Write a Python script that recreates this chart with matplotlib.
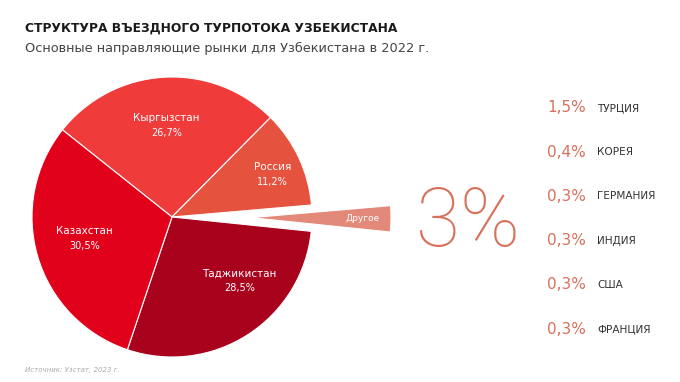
import numpy as np
import matplotlib
matplotlib.use("Agg")
import matplotlib.pyplot as plt

# ---------- data ----------
slice_names = ["Кыргызстан", "Россия", "Другое", "Таджикистан", "Казахстан"]
slice_values = [26.7, 11.2, 3.0, 28.5, 30.5]
slice_labels = ["26,7%", "11,2%", "", "28,5%", "30,5%"]
slice_colors = ["#F03B3B", "#E5533F", "#E3897A", "#A8021D", "#E2011A"]

other_total = "3%"
other_countries = ["ТУРЦИЯ", "КОРЕЯ", "ГЕРМАНИЯ", "ИНДИЯ", "США", "ФРАНЦИЯ"]
other_shares = ["1,5%", "0,4%", "0,3%", "0,3%", "0,3%", "0,3%"]

title = "СТРУКТУРА ВЪЕЗДНОГО ТУРПОТОКА УЗБЕКИСТАНА"
subtitle = "Основные направляющие рынки для Узбекистана в 2022 г."
source = "Источник: Узстат, 2023 г."

W, H = 680, 382
accent = "#D8705B"

fig = plt.figure(figsize=(6.8, 3.82), dpi=100)
ax = fig.add_axes([0, 0, 1, 1])

# pie (y measured from bottom, data units = pixels)
cx, cy, r = 172, H - 217, 140
explode = [0, 0, 79, 0, 0]   # pie explode is in data units
wedges, _ = ax.pie(slice_values, colors=slice_colors, explode=explode,
                   startangle=141.5, counterclock=False, center=(cx, cy),
                   radius=r, wedgeprops=dict(edgecolor="white", linewidth=0.8),
                   frame=True)
ax.set_xlim(0, W)
ax.set_ylim(0, H)
ax.set_aspect("equal")
ax.axis("off")

# label placement per slice (distance as fraction of r, angle shift in deg)
label_dist = [0.66, 0.78, 0.80, 0.66, 0.64]
label_shift = [0, -2, 0, 14, -3]
for w, name, lab, d, sh in zip(wedges, slice_names, slice_labels, label_dist, label_shift):
    ang = np.deg2rad((w.theta1 + w.theta2) / 2 + sh)
    x0, y0 = w.center
    tx, ty = x0 + d * r * np.cos(ang), y0 + d * r * np.sin(ang)
    if lab:
        ax.text(tx, ty + 7, name, color="white", fontsize=7.5, ha="center", va="center")
        ax.text(tx, ty - 8, lab, color="white", fontsize=7, ha="center", va="center")
    else:
        ax.text(tx, ty, name, color="white", fontsize=6.5, ha="center", va="center")

# big 3%
ax.text(468, H - 224, other_total, color=accent, fontsize=58, family="Roboto",
        fontweight="light", ha="center", va="center")

# list of other countries
for i, (share, country) in enumerate(zip(other_shares, other_countries)):
    y = H - (108 + i * 44.2)
    ax.text(547, y, share, color=accent, fontsize=11, ha="left", va="center")
    ax.text(597, y, country, color="#333333", fontsize=7.6, ha="left", va="center")

fig.text(25 / W, 1 - 28 / H, title, fontsize=8.8, fontweight="bold", color="#1a1a1a",
         ha="left", va="center")
fig.text(25 / W, 1 - 48 / H, subtitle, fontsize=9.3, color="#444444", ha="left", va="center")
fig.text(25 / W, 1 - 370 / H, source, fontsize=5, style="italic", color="#aaaaaa",
         ha="left", va="center")

fig.savefig("out.png", dpi=100, facecolor="white")
